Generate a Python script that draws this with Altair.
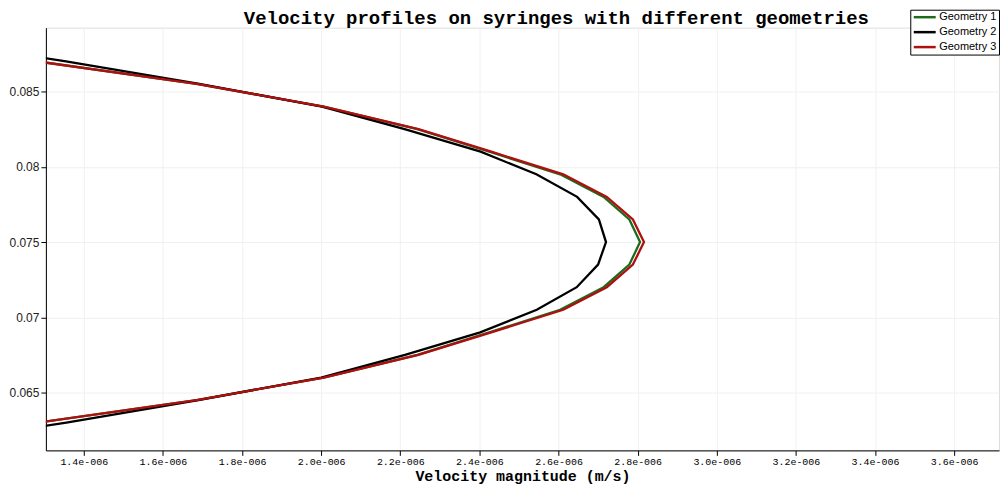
import altair as alt
import pandas as pd

# ---- data ----
series_names = ["Geometry 1", "Geometry 2", "Geometry 3"]
series_colors = ["#1e6b1e", "#000000", "#b00f0f"]

# position along the syringe (y axis), bottom to top
y_vals = [0.0615, 0.063, 0.0645, 0.066, 0.0675, 0.069, 0.0705, 0.072, 0.0735,
          0.075,
          0.0765, 0.078, 0.0795, 0.081, 0.0825, 0.084, 0.0855, 0.087, 0.0885]

# velocity magnitude in units of 1e-6 m/s
geom1_v = [0.846, 1.282, 1.685, 2.006, 2.243, 2.425, 2.604, 2.714, 2.779,
           2.806,
           2.779, 2.714, 2.604, 2.425, 2.243, 2.006, 1.685, 1.282, 0.846]
geom2_v = [0.975, 1.356, 1.690, 2.000, 2.212, 2.402, 2.545, 2.646, 2.700,
           2.720,
           2.702, 2.647, 2.544, 2.403, 2.211, 2.002, 1.692, 1.355, 0.977]
geom3_v = [0.846, 1.282, 1.685, 2.007, 2.246, 2.430, 2.612, 2.722, 2.788,
           2.816,
           2.788, 2.722, 2.612, 2.430, 2.246, 2.007, 1.685, 1.282, 0.846]

x_ticks = [1.4e-6, 1.6e-6, 1.8e-6, 2.0e-6, 2.2e-6, 2.4e-6, 2.6e-6, 2.8e-6,
           3.0e-6, 3.2e-6, 3.4e-6, 3.6e-6]
y_ticks = [0.065, 0.07, 0.075, 0.08, 0.085]

x_domain = [1.3042e-6, 3.7134e-6]
y_domain = [0.06116, 0.08924]

rows = []
for name, vals in zip(series_names, [geom1_v, geom2_v, geom3_v]):
    for i, (v, y) in enumerate(zip(vals, y_vals)):
        rows.append({"series": name, "idx": i, "velocity": v * 1e-6, "pos": y})
df = pd.DataFrame(rows)

chart = alt.Chart(df).mark_line(clip=True, strokeWidth=2.3).encode(
    x=alt.X("velocity:Q",
            scale=alt.Scale(domain=x_domain, nice=False, zero=False),
            axis=alt.Axis(values=x_ticks,
                          labelExpr="format(datum.value*1e6, '.1f') + 'e-006'",
                          title="Velocity magnitude (m/s)",
                          titleFont="Liberation Mono", titleFontSize=15,
                          titleFontWeight="bold", titleColor="#000",
                          titlePadding=2,
                          labelFont="Liberation Mono", labelFontSize=10,
                          labelColor="#000", labelPadding=1,
                          tickSize=5, tickColor="#000", domainColor="#000",
                          grid=True, gridColor="#f0f0f0", labelFlush=False)),
    y=alt.Y("pos:Q",
            scale=alt.Scale(domain=y_domain, nice=False, zero=False),
            axis=alt.Axis(values=y_ticks,
                          labelExpr="format(datum.value, '.3~f')",
                          title=None,
                          labelFont="Liberation Sans", labelFontSize=12,
                          labelColor="#222", labelPadding=2,
                          tickSize=5, tickColor="#000", domainColor="#000",
                          grid=True, gridColor="#f0f0f0", labelFlush=False)),
    color=alt.Color("series:N",
                    scale=alt.Scale(domain=series_names, range=series_colors),
                    legend=alt.Legend(title=None, orient="none",
                                      legendX=867, legendY=-18,
                                      symbolType="M-2.75,0H2.75", symbolSize=64,
                                      symbolStrokeWidth=2.5, symbolOffset=7,
                                      labelFont="Liberation Sans",
                                      labelFontSize=11, labelColor="#000",
                                      labelOffset=9,
                                      strokeColor="#000", fillColor="#fff",
                                      padding=2, rowPadding=3, cornerRadius=0)),
    order=alt.Order("idx:Q"),
).properties(
    width=956,
    height=424,
    padding={"left": 0, "top": 0, "right": 0, "bottom": 0},
    title=alt.TitleParams("Velocity profiles on syringes with different geometries",
                          font="Liberation Mono", fontSize=19,
                          fontWeight="bold", anchor="middle", offset=-19,
                          dx=34, color="#000"),
).configure_view(stroke=None).configure(background="white")

chart.save("out.html", embed_options={"renderer": "svg", "actions": False})
